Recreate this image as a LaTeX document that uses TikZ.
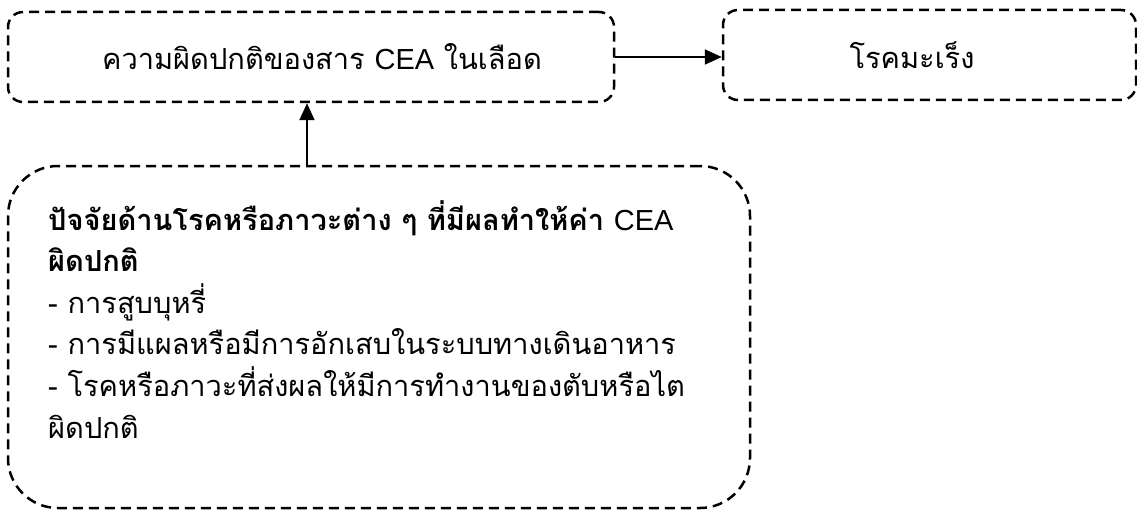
\documentclass[tikz,border=0pt]{standalone}
\usepackage{fontspec}
\setmainfont[Script=Thai]{Loma}
\newfontfamily\latinfont{Liberation Sans}
\usetikzlibrary{arrows.meta}
\newcommand{\ceatext}{{\latinfont CEA}}
\tikzset{
  dbox/.style={draw, line width=2.5pt, dash pattern=on 10pt off 6pt, inner sep=0pt},
  conn/.style={line width=1.9pt, -{Triangle[length=17pt,width=15pt]}},
  lbl/.style={font=\fontsize{29}{34}\selectfont, inner sep=0pt}
}
\begin{document}
\begin{tikzpicture}[x=1pt,y=-1pt]
\useasboundingbox (0,0) rectangle (1137,516);
\node[dbox, rounded corners=15pt, minimum width=606pt, minimum height=90pt] (A) at (311,57) {};
\node[dbox, rounded corners=15pt, minimum width=413pt, minimum height=90pt] (B) at (929.5,55) {};
\node[dbox, rounded corners=50pt, minimum width=742pt, minimum height=342pt] (C) at (379,337) {};
\node[lbl] (At) at (322,57) {ความผิดปกติของสาร \ceatext\ ในเลือด};
\node[lbl] (Bt) at (912,55) {โรคมะเร็ง};
\node[font=\fontsize{29}{41.6}\selectfont, align=left, anchor=north west, inner sep=0pt] (Ct) at (48,200)
{\textbf{ปัจจัยด้านโรคหรือภาวะต่าง ๆ ที่มีผลทำให้ค่า} \ceatext\\
\textbf{ผิดปกติ}\\
- การสูบบุหรี่\\
- การมีแผลหรือมีการอักเสบในระบบทางเดินอาหาร\\
- โรคหรือภาวะที่ส่งผลให้มีการทำงานของตับหรือไต\\
ผิดปกติ};
\coordinate (Ctop) at (307,166);
\draw[conn] (A.east) -- (A.east -| B.west);
\draw[conn] (Ctop) -- (Ctop |- A.south);
\end{tikzpicture}
\end{document}
